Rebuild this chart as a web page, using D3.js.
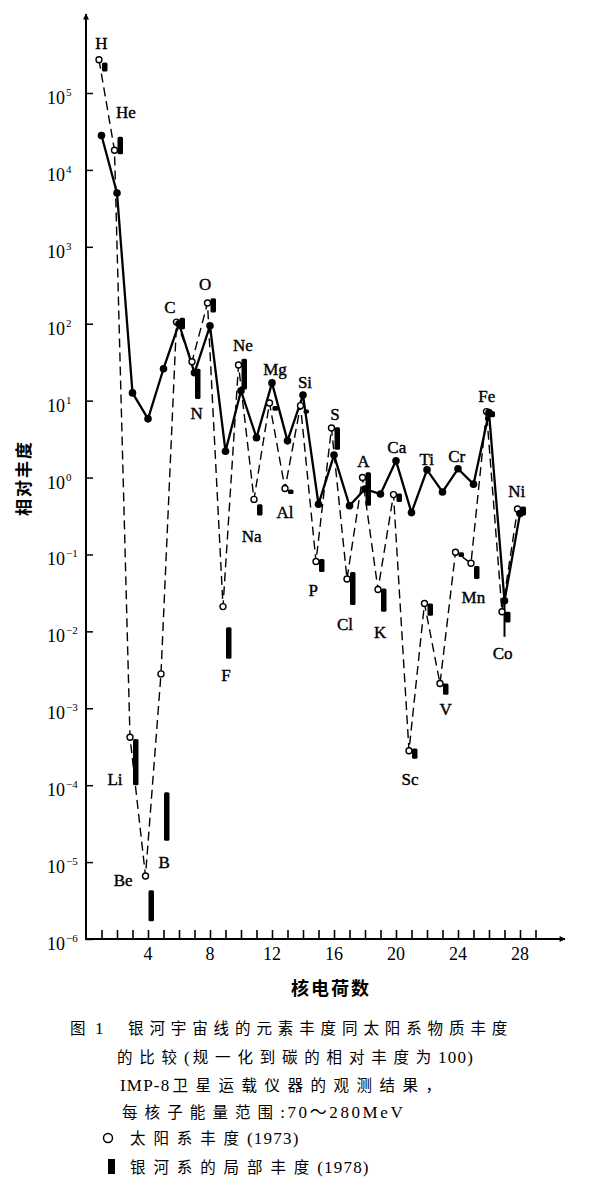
<!DOCTYPE html>
<html>
<head>
<meta charset="utf-8">
<script src="https://cdn.jsdelivr.net/npm/d3@7"></script>
<style>
  body { margin: 0; background: #fff; }
  svg { display: block; }
</style>
</head>
<body>
<div id="chart"></div>
<script>
// nuclear charge Z and element symbols
const charge = [1,2,3,4,5,6,7,8,9,10,11,12,13,14,15,16,17,18,19,20,21,22,23,24,25,26,27,28]
const elements = ["H","He","Li","Be","B","C","N","O","F","Ne","Na","Mg","Al","Si","P","S","Cl","A","K","Ca","Sc","Ti","V","Cr","Mn","Fe","Co","Ni"]

// galactic cosmic rays (solid line, filled dots), C = 100
const cosmicRay = [2.8e4, 5000, 12.6, 5.8, 26, 100, 23, 94, 2.2, 13.4, 3.3, 17, 3.0, 11.8, 0.45, 1.96, 0.43, 0.71, 0.61, 1.65, 0.35, 1.26, 0.65, 1.3, 0.82, 7.0, 0.025, 0.34]
// solar system abundance 1973 (dashed line, open circles)
const solarSystem = [2.7e5, 1.8e4, 4.2e-4, 6.6e-6, 2.8e-3, 105, 32, 186, 0.021, 29, 0.52, 9.3, 0.72, 8.6, 0.081, 4.4, 0.048, 1.0, 0.035, 0.6, 2.8e-4, 0.023, 2.1e-3, 0.107, 0.077, 7.2, 0.018, 0.39]
// local galactic abundance 1978 (black bars), low and high ends
const localLow  = [1.9e5, 1.6e4, 1.0e-4, 1.7e-6, 1.9e-5, 85, 10.5, 140, 0.0044, 14, 0.32, 7.4, 0.61, 6.9, 0.059, 2.3, 0.022, 0.43, 0.018, 0.48, 2.2e-4, 0.016, 1.5e-3, 0.093, 0.048, 6.1, 0.013, 0.32]
const localHigh = [2.5e5, 2.7e4, 4.0e-4, 4.3e-6, 8.1e-5, 120, 26, 215, 0.0113, 35, 0.45, 8.5, 0.70, 7.6, 0.087, 4.5, 0.059, 1.17, 0.036, 0.62, 3.0e-4, 0.023, 2.1e-3, 0.107, 0.071, 7.3, 0.018, 0.42]
// error bar on the cosmic ray Co point
const errZ = [27]
const errLow = [0.0085]
const errHigh = [0.025]

const yTicks = [1e5, 1e4, 1e3, 1e2, 1e1, 1e0, 1e-1, 1e-2, 1e-3, 1e-4, 1e-5, 1e-6]
const yExp = ["5","4","3","2","1","0","-1","-2","-3","-4","-5","-6"]
const xLabels = [4, 8, 12, 16, 20, 24, 28]

// where the element names sit, in data units (z, abundance)
const labelSpots = [[1.0,4.5e5],[2.58,5.6e4],[1.87,1.2e-4],[2.4,5.9e-6],[5.05,1.0e-5],[5.42,165],[7.14,6.9],[7.68,330],[9.03,2.7e-3],[10.13,53],[10.69,0.175],[12.19,26],[12.84,0.36],[14.13,17.5],[14.66,0.034],[16.06,6.7],[16.71,0.0124],[17.89,1.65],[18.97,0.0097],[20.05,2.47],[20.9,1.2e-4],[21.98,1.74],[23.21,9.8e-4],[23.92,1.92],[24.99,0.0276],[25.85,11.6],[26.88,5.2e-3],[27.79,0.67]]

var width = 606, height = 1200

var svg = d3.select("#chart")
  .append("svg")
    .attr("width", width)
    .attr("height", height)
    .style("font-family", "'Liberation Serif', 'Noto Sans CJK SC', serif")

svg.append("rect").attr("width", width).attr("height", height).attr("fill", "#fff")

var x = d3.scaleLinear().domain([0, 28]).range([86, 520])
var y = d3.scaleLog().domain([1e-6, 1e5]).range([939, 93])

svg.append("defs").append("marker")
    .attr("id", "arrow")
    .attr("viewBox", "0 0 10 10")
    .attr("refX", 9).attr("refY", 5)
    .attr("markerWidth", 9).attr("markerHeight", 6)
    .attr("markerUnits", "userSpaceOnUse")
    .attr("orient", "auto")
  .append("path")
    .attr("d", "M0,0 L10,5 L0,10 z")
    .attr("fill", "#000")

// y axis: ticks pointing inward, labels drawn by hand as 10^n
var yAxis = svg.append("g")
  .attr("transform", "translate(86,0)")
  .call(d3.axisRight(y).tickValues(yTicks).tickSize(7).tickFormat(""))
yAxis.select(".domain").remove()
yAxis.selectAll("line").attr("stroke-width", 1.5)

svg.append("line")
  .attr("x1", 86).attr("y1", 940).attr("x2", 86).attr("y2", 14)
  .attr("stroke", "#000").attr("stroke-width", 2)
  .attr("marker-end", "url(#arrow)")

var yLab = svg.selectAll("text.ylab")
  .data(yTicks)
  .enter()
  .append("text")
    .attr("class", "ylab")
    .attr("x", 47)
    .attr("y", d => y(d) + 11)
    .style("font-size", "18px")
yLab.append("tspan").text("10")
yLab.append("tspan")
  .attr("dx", 1)
  .attr("dy", -8)
  .style("font-size", "11px")
  .text((d, i) => yExp[i].replace("-", "\u2212"))

// x axis: small ticks at every charge
var xAxis = svg.append("g")
  .attr("transform", "translate(0,939)")
  .call(d3.axisTop(x).tickValues(d3.range(1, 30)).tickSize(9).tickFormat(""))
xAxis.select(".domain").remove()
xAxis.selectAll("line").attr("stroke-width", 1.6)

svg.append("line")
  .attr("x1", 85).attr("y1", 939).attr("x2", 565).attr("y2", 939)
  .attr("stroke", "#000").attr("stroke-width", 2.2)
  .attr("marker-end", "url(#arrow)")

svg.selectAll("text.xlab")
  .data(xLabels)
  .enter()
  .append("text")
    .attr("class", "xlab")
    .attr("x", d => x(d))
    .attr("y", 960)
    .attr("text-anchor", "middle")
    .style("font-size", "18px")
    .text(d => d)

// axis titles
svg.append("text")
  .attr("x", 331).attr("y", 995)
  .attr("text-anchor", "middle")
  .style("font-family", "'Noto Sans CJK SC'")
  .style("font-weight", "bold")
  .style("font-size", "18px")
  .style("letter-spacing", "2px")
  .text("核电荷数")

svg.append("text")
  .attr("transform", "translate(30,478) rotate(-90)")
  .attr("text-anchor", "middle")
  .style("font-family", "'Noto Sans CJK SC'")
  .style("font-weight", "bold")
  .style("font-size", "17px")
  .style("letter-spacing", "2px")
  .text("相对丰度")

// series
var solarOff = -2.5, barOff = 3

var dashed = d3.line()
  .x((d, i) => x(charge[i]) + solarOff)
  .y(d => y(d))
svg.append("path")
  .attr("d", dashed(solarSystem))
  .attr("fill", "none")
  .attr("stroke", "#000")
  .attr("stroke-width", 1.4)
  .attr("stroke-dasharray", "9,5")

var solid = d3.line()
  .x((d, i) => x(charge[i]))
  .y(d => y(d))
svg.append("path")
  .attr("d", solid(cosmicRay))
  .attr("fill", "none")
  .attr("stroke", "#000")
  .attr("stroke-width", 2.3)
  .attr("stroke-linejoin", "round")

svg.selectAll("line.err")
  .data(errZ)
  .enter()
  .append("line")
    .attr("x1", d => x(d)).attr("x2", d => x(d))
    .attr("y1", (d, i) => y(errLow[i]))
    .attr("y2", (d, i) => y(errHigh[i]))
    .attr("stroke", "#000")
    .attr("stroke-width", 2)

svg.selectAll("rect.local")
  .data(charge)
  .enter()
  .append("rect")
    .attr("class", "local")
    .attr("x", d => x(d) + barOff - 2.5)
    .attr("width", 5.5)
    .attr("y", (d, i) => Math.min(y(localHigh[i]), (y(localHigh[i]) + y(localLow[i])) / 2 - 2))
    .attr("height", (d, i) => Math.max(y(localLow[i]) - y(localHigh[i]), 4))
    .attr("rx", 1.5)
    .attr("fill", "#000")

svg.selectAll("circle.solar")
  .data(solarSystem)
  .enter()
  .append("circle")
    .attr("class", "solar")
    .attr("cx", (d, i) => x(charge[i]) + solarOff)
    .attr("cy", d => y(d))
    .attr("r", 3)
    .attr("fill", "#fff")
    .attr("stroke", "#000")
    .attr("stroke-width", 1.4)

svg.selectAll("circle.cr")
  .data(cosmicRay)
  .enter()
  .append("circle")
    .attr("class", "cr")
    .attr("cx", (d, i) => x(charge[i]))
    .attr("cy", d => y(d))
    .attr("r", 3.8)
    .attr("fill", "#000")

// element names
svg.selectAll("text.el")
  .data(elements)
  .enter()
  .append("text")
    .attr("class", "el")
    .attr("x", (d, i) => x(labelSpots[i][0]))
    .attr("y", (d, i) => y(labelSpots[i][1]) + 6)
    .attr("text-anchor", "middle")
    .attr("stroke", "#000")
    .attr("stroke-width", 0.4)
    .style("font-size", "17px")
    .text(d => d)

// caption: chinese characters on a fixed pitch per line, latin runs set tight
var capLines = [
  {x: 128, y: 1034, pitch: 21.4, parts: [["银河宇宙线的元素丰度同太阳系物质丰度", 1]]},
  {x: 117, y: 1063, pitch: 22.3, parts: [["的比较", 1], ["(", 0], ["规一化到碳的相对丰度为", 1], ["100)", 0]]},
  {x: 120, y: 1091, pitch: 23.0, parts: [["IMP-8", 0], ["卫星运载仪器的观测结果，", 1]]},
  {x: 122, y: 1118, pitch: 22.6, parts: [["每核子能量范围", 1], [":70～280MeV", 2.6]]},
  {x: 130, y: 1144, pitch: 23.4, parts: [["太阳系丰度", 1], ["(1973)", 0]]},
  {x: 130, y: 1173, pitch: 23.4, parts: [["银河系的局部丰度", 1], ["(1978)", 0]]}
]

var cap = svg.append("g")
  .attr("fill", "#000")

cap.append("text").attr("x", 70).attr("y", 1034).style("font-size", "15.5px").text("图")
cap.append("text").attr("x", 95).attr("y", 1034).style("font-size", "17px").text("1")

capLines.forEach(function(line) {
  var t = cap.append("text").attr("y", line.y)
  var cx = line.x
  line.parts.forEach(function(p) {
    if (p[1] === 1) {
      Array.from(p[0]).forEach(function(ch) {
        t.append("tspan").attr("x", cx).style("font-size", "15.5px").text(ch)
        cx += line.pitch
      })
    } else {
      var ls = p[1] === 0 ? 1.2 : p[1]
      var s = t.append("tspan").attr("x", cx)
        .style("font-size", "17px")
        .style("letter-spacing", ls + "px")
        .text(p[0])
      cx += s.node().getComputedTextLength() + 2
    }
  })
})

cap.append("circle")
  .attr("cx", 108).attr("cy", 1138).attr("r", 4.5)
  .attr("fill", "none").attr("stroke", "#000").attr("stroke-width", 1.5)
cap.append("rect")
  .attr("x", 108).attr("y", 1159).attr("width", 7).attr("height", 15)
  .attr("fill", "#000")
</script>
</body>
</html>
